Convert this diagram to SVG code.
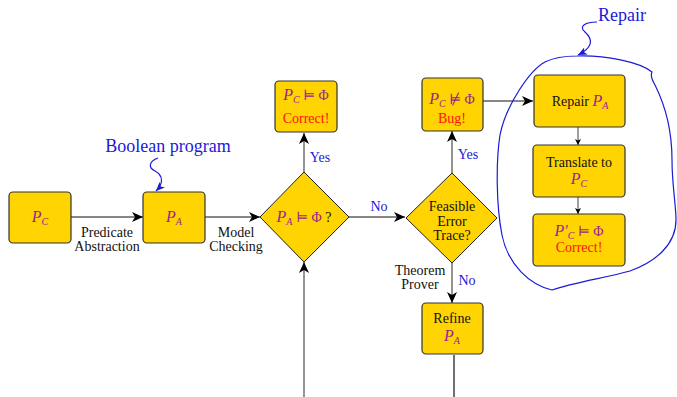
<svg xmlns="http://www.w3.org/2000/svg" width="677" height="397" viewBox="0 0 677 397" font-family="'Liberation Serif', 'Times New Roman', Times, 'DejaVu Serif', serif">
  <style>
    text { font-family: "Liberation Serif", "Times New Roman", Times, "DejaVu Serif", serif; font-size: 14px; fill: #111; }
    .box { fill: #FFD400; stroke: #333; stroke-width: 1.2; }
    .dia { fill: #FFD400; stroke: #222; stroke-width: 1; }
    .m { fill: #9B2390; font-style: italic; font-size: 16px; }
    .s { fill: #9B2390; font-style: italic; font-size: 10px; }
    .op { fill: #9B2390; }
    .red { fill: #FF1010; }
    .blue { fill: #1A1AD8; }
    .big { font-size: 18px; }
    .ln { stroke: #111; stroke-width: 1.2; fill: none; }
    .gl { stroke: #666; stroke-width: 1.4; fill: none; }
    .thin { stroke: #111; stroke-width: 0.8; fill: none; }
    .bl { stroke: #1A1AD8; stroke-width: 1.2; fill: none; }
  </style>
  <defs>
    <marker id="ah" markerUnits="userSpaceOnUse" markerWidth="12" markerHeight="10" refX="11" refY="5" orient="auto">
      <path d="M0,0 L11,5 L0,10 L3,5 Z" fill="#000"/>
    </marker>
    <marker id="ahs" markerUnits="userSpaceOnUse" markerWidth="7" markerHeight="6" refX="6" refY="3" orient="auto">
      <path d="M0,0 L6,3 L0,6 L1.5,3 Z" fill="#000"/>
    </marker>
    <marker id="ahb" markerUnits="userSpaceOnUse" markerWidth="10" markerHeight="8" refX="9" refY="4" orient="auto">
      <path d="M0,0 L9,4 L0,8 L2.5,4 Z" fill="#1A1AD8"/>
    </marker>
  </defs>

  <!-- connectors -->
  <g id="connectors">
    <line class="ln" x1="71" y1="217" x2="143" y2="217" marker-end="url(#ah)"/>
    <line class="ln" x1="205" y1="217" x2="260" y2="217" marker-end="url(#ah)"/>
    <line class="gl" x1="304" y1="172" x2="304" y2="133" marker-end="url(#ah)"/>
    <line class="ln" x1="349" y1="217" x2="405" y2="217" marker-end="url(#ah)"/>
    <line class="gl" x1="304" y1="397" x2="304" y2="262" marker-end="url(#ah)"/>
    <line class="gl" x1="452" y1="173" x2="452" y2="131" marker-end="url(#ah)"/>
    <line class="gl" x1="452" y1="263" x2="452" y2="303" marker-end="url(#ah)"/>
    <line class="ln" x1="454" y1="355" x2="454" y2="397"/>
    <line class="ln" x1="483" y1="101" x2="533" y2="101" marker-end="url(#ah)"/>
    <line class="thin" x1="578" y1="127" x2="578" y2="145" marker-end="url(#ahs)"/>
    <line class="thin" x1="578" y1="197" x2="578" y2="214" marker-end="url(#ahs)"/>
    <!-- hand-drawn callouts -->
    <path class="bl" d="M158,158 C150,161 147,167 155,171 C164,176 163,184 156,191" marker-end="url(#ahb)"/>
    <path class="bl" d="M597,22 C586,22 578,26 585,32 C594,40 592,48 578,55" marker-end="url(#ahb)"/>
    <path class="bl" d="M577,56 C605,55 640,62 652,72 C650,76 652,80 655,85 C665,105 672,130 672,160 C672,185 676,205 676,220 C676,245 655,262 630,271 C605,278 575,282 552,290 C530,285 508,265 502,235 C496,205 496,160 500,135 C506,105 530,70 545,62 C555,57 565,56 577,56 Z"/>
  </g>

  <!-- edge labels -->
  <g id="labels">
    <text x="107" y="237" text-anchor="middle">Predicate</text>
    <text x="107" y="251" text-anchor="middle">Abstraction</text>
    <text x="236" y="237" text-anchor="middle">Model</text>
    <text x="236" y="251" text-anchor="middle">Checking</text>
    <text x="320" y="162" text-anchor="middle" class="blue">Yes</text>
    <text x="379" y="211" text-anchor="middle" class="blue">No</text>
    <text x="468" y="159" text-anchor="middle" class="blue">Yes</text>
    <text x="467" y="285" text-anchor="middle" class="blue">No</text>
    <text x="420" y="275" text-anchor="middle">Theorem</text>
    <text x="420" y="289" text-anchor="middle">Prover</text>
    <text x="168" y="152" text-anchor="middle" class="blue big">Boolean program</text>
    <text x="622" y="21" text-anchor="middle" class="blue big">Repair</text>
  </g>

  <g id="pc">
    <rect class="box" x="9" y="192" width="62" height="51" rx="4"/>
    <text x="40" y="222" text-anchor="middle"><tspan class="m">P</tspan><tspan class="s" dy="3">C</tspan></text>
  </g>

  <g id="pa">
    <rect class="box" x="143" y="192" width="62" height="51" rx="4"/>
    <text x="174" y="222" text-anchor="middle"><tspan class="m">P</tspan><tspan class="s" dy="3">A</tspan></text>
  </g>

  <g id="check">
    <polygon class="dia" points="304,172 349,217 304,262 260,217"/>
    <text x="304" y="222" text-anchor="middle"><tspan class="m">P</tspan><tspan class="s" dy="3">A</tspan><tspan class="op" dy="-3"> ⊨ Φ</tspan><tspan> ?</tspan></text>
  </g>

  <g id="correct">
    <rect class="box" x="275" y="81" width="62" height="51" rx="4"/>
    <text x="306" y="100" text-anchor="middle"><tspan class="m">P</tspan><tspan class="s" dy="3">C</tspan><tspan class="op" dy="-3"> ⊨ Φ</tspan></text>
    <text x="306" y="123" text-anchor="middle" class="red">Correct!</text>
  </g>

  <g id="feasible">
    <polygon class="dia" points="452,173 497,218 452,263 406,218"/>
    <text x="452" y="211" text-anchor="middle">Feasible</text>
    <text x="452" y="226" text-anchor="middle">Error</text>
    <text x="452" y="240" text-anchor="middle">Trace?</text>
  </g>

  <g id="bug">
    <rect class="box" x="422" y="78" width="61" height="53" rx="4"/>
    <text x="452" y="104" text-anchor="middle"><tspan class="m">P</tspan><tspan class="s" dy="3">C</tspan><tspan class="op" dy="-3"> ⊭ Φ</tspan></text>
    <text x="452" y="123" text-anchor="middle" class="red">Bug!</text>
  </g>

  <g id="refine">
    <rect class="box" x="422" y="303" width="61" height="51" rx="4"/>
    <text x="452" y="323" text-anchor="middle">Refine</text>
    <text x="452" y="341" text-anchor="middle"><tspan class="m">P</tspan><tspan class="s" dy="3">A</tspan></text>
  </g>

  <g id="repair">
    <rect class="box" x="534" y="75" width="91" height="52" rx="4"/>
    <text x="580" y="106" text-anchor="middle">Repair <tspan class="m">P</tspan><tspan class="s" dy="3">A</tspan></text>
  </g>

  <g id="translate">
    <rect class="box" x="533" y="145" width="92" height="52" rx="4"/>
    <text x="579" y="167" text-anchor="middle">Translate to</text>
    <text x="579" y="184" text-anchor="middle"><tspan class="m">P</tspan><tspan class="s" dy="3">C</tspan></text>
  </g>

  <g id="verified">
    <rect class="box" x="533" y="214" width="92" height="52" rx="4"/>
    <text x="579" y="236" text-anchor="middle"><tspan class="m">P′</tspan><tspan class="s" dy="3">C</tspan><tspan class="op" dy="-3"> ⊨ Φ</tspan></text>
    <text x="579" y="252" text-anchor="middle" class="red">Correct!</text>
  </g>
</svg>
